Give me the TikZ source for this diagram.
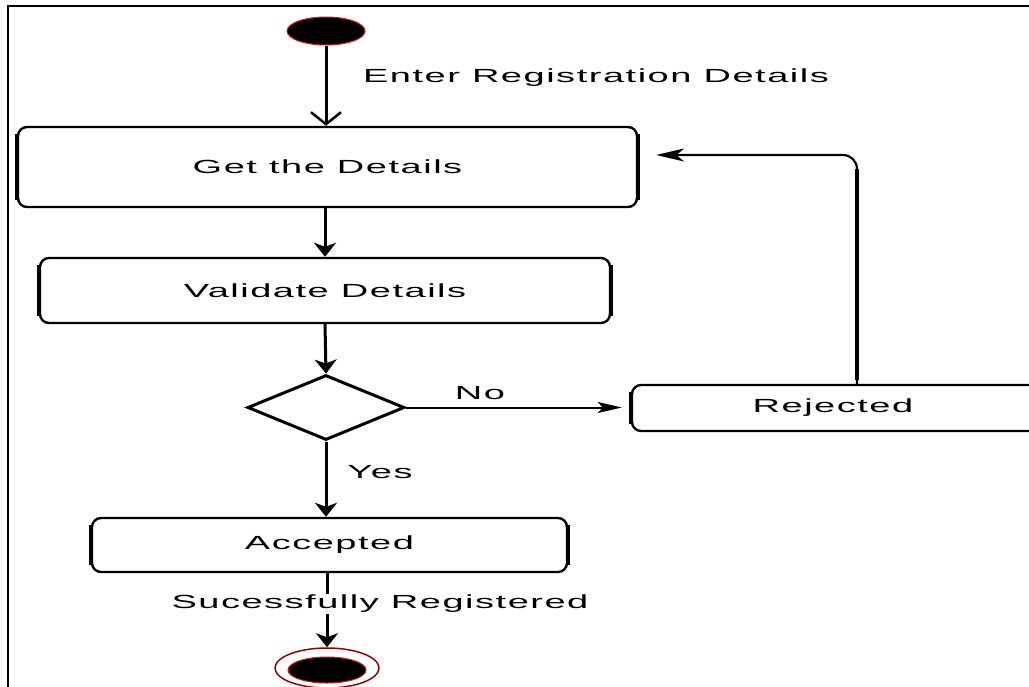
\documentclass[tikz,border=0pt]{standalone}
\usepackage{fontspec}
\setmainfont{Liberation Sans}
\newfontfamily\lblfont[FakeStretch=2.0,LetterSpace=8]{Liberation Sans}
\usetikzlibrary{arrows.meta,shapes.geometric,calc}

\definecolor{ringred}{RGB}{150,0,0}
\definecolor{edgered}{RGB}{220,20,20}

\begin{document}
\begin{tikzpicture}[x=1pt,y=-1pt,
  txt/.style={font=\lblfont\fontsize{19}{21}\selectfont},
  act/.style={draw,line width=2.4pt,rounded corners=9pt,inner sep=0pt,txt},
  lbl/.style={txt,inner sep=1pt},
  flow/.style={line width=3pt,-{Stealth[length=14pt,width=22pt,inset=4pt]}},
  side/.style={line width=4.5pt},
]
\useasboundingbox (0,0) rectangle (1029,686);
\fill[white] (0,0) rectangle (1029,686);

% outer frame
\draw[line width=2.5pt] (8,690) -- (8,6) -- (1040,6);

% start state
\node[ellipse,fill=black,draw=edgered,line width=1pt,minimum width=78pt,minimum height=28pt,inner sep=0pt] (start) at (326,31) {};

% activities
\node[act,minimum width=619pt,minimum height=80pt] (get) at (327.5,167) {Get the Details};
\node[act,minimum width=570pt,minimum height=65pt] (val) at (325,290.5) {Validate Details};
\node[diamond,draw,line width=3pt,inner sep=0pt,minimum width=157pt,minimum height=65pt] (dia) at (326,407.5) {};
\node[act,minimum width=410pt,minimum height=46pt] (rej) at (837,408) {};
\node[txt] (rejtxt) at (833,408) {Rejected};
\node[act,minimum width=475pt,minimum height=54pt] (acc) at (329.5,545) {Accepted};

% thicker side strokes of the activity boxes
\foreach \n in {get,val,acc}{
  \draw[side] ([yshift=-8pt]\n.north west) -- ([yshift=8pt]\n.south west);
  \draw[side] ([yshift=-8pt]\n.north east) -- ([yshift=8pt]\n.south east);
}
\draw[side] ([yshift=-8pt]rej.north west) -- ([yshift=8pt]rej.south west);

% final state
\node[ellipse,draw=ringred,line width=1.5pt,minimum width=104pt,minimum height=40pt,inner sep=0pt] (endring) at (327,668) {};
\node[ellipse,fill=black,draw=edgered,line width=1pt,minimum width=78pt,minimum height=26pt,inner sep=0pt] (end) at (327,670) {};

% connectors
\draw[line width=3pt,-{Straight Barb[length=12pt,width=30pt,line width=2.5pt]}] (start.south) -- (start.south |- get.north);
\draw[flow] (get.south -| val.north) -- (val.north);
\draw[flow] (val.south) -- (dia.north);
\draw[line width=2pt,-{Stealth[length=24pt,width=11pt,inset=5pt]},shorten >=9pt] (dia.east) -- (dia.east -| rej.west);
\draw[flow] (dia.south) -- (dia.south |- acc.north);
\draw[flow] (acc.south -| end.north) -- (endring.north);

\coordinate (turn) at (857,155);
\draw[line width=2.2pt,rounded corners=14pt,-{Stealth[length=28pt,width=13pt,inset=8pt]},shorten >=18pt]
  (rej.north -| turn) -- (turn) -- (turn -| get.east);
\draw[line width=4pt,shorten <=4pt] (rej.north -| turn) -- ($(turn)+(0,14)$);

% labels
\node[lbl] (enter) at (596,78) {Enter Registration Details};
\node[lbl] (no) at (480,393) {No};
\node[lbl] (yes) at (380,472) {Yes};
\node[lbl,fill=white] (done) at (380,604) {Sucessfully Registered};
\end{tikzpicture}
\end{document}
